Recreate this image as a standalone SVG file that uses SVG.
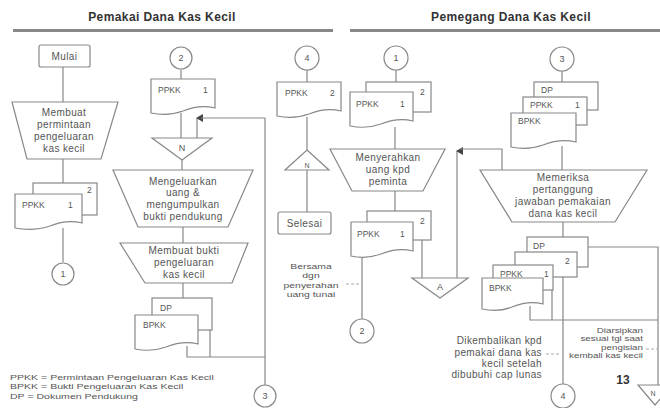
<svg xmlns="http://www.w3.org/2000/svg" width="660" height="408" viewBox="0 0 660 408">
<style>
text{font-family:"Liberation Sans",Arial,sans-serif;font-size:10px;letter-spacing:0.4px;fill:#555}
.c{text-anchor:middle}
.e{text-anchor:end}
.h{font-size:12px;font-weight:bold;letter-spacing:0.4px;fill:#333}
.w{font-size:8px;letter-spacing:0}
.s{font-size:7px;letter-spacing:0}
.d{font-size:8.5px;letter-spacing:0}
.n{font-size:9px;letter-spacing:0}
.shape{fill:#fff;stroke:#888;stroke-width:1.2}
.ln{fill:none;stroke:#888;stroke-width:1.2}
.dash{fill:none;stroke:#aaa;stroke-width:1;stroke-dasharray:3 2}
</style>
<defs>
<marker id="ah" markerWidth="8" markerHeight="8" refX="4" refY="1" orient="auto-start-reverse" markerUnits="userSpaceOnUse">
<path d="M0,7 L4,0 L8,7 Z" fill="#444"/>
</marker>
</defs>
<rect width="660" height="408" fill="#fff"/>
<g id="headers">
<text class="h c" x="162" y="21">Pemakai Dana Kas Kecil</text>
<text class="h c" x="511" y="21">Pemegang Dana Kas Kecil</text>
<rect x="13" y="29" width="320" height="3" fill="#888"/>
<rect x="350" y="29" width="310" height="3" fill="#888"/>
</g>
<g id="connectors">
<path class="ln" d="M63,67 V102 M63,159 V183 M63,228 V262"/>
<path class="ln" d="M181,70 V79 M181,113 V138 M182,160 V170 M183,227 V243 M183,283 V298"/>
<path class="ln" d="M197,138 V118" marker-end="url(#ah)"/>
<path class="ln" d="M201,118 H265 V385 M187,346 V357 H265 M210,330 V357"/>
<path class="ln" d="M307,70 V82 M307,117 V150"/>
<path class="ln" d="M307,212 V166" marker-end="url(#ah)"/>
<path class="ln" d="M396,70 V82 M395,127 V149 M395,191 V211 M362,255 V319 M422,240 V278"/>
<path class="ln" d="M457,278 V151" marker-end="url(#ah)"/>
<path class="ln" d="M460,149 H502 V170"/>
<path class="ln" d="M562,71 V82 M562,146 V170 M563,222 V237"/>
<path class="ln" d="M588,247 H658 V385 M530,306 V320 H658 M552,290 V320 M563,277 V384"/>
<path class="dash" d="M346,284 H361 M546,354 H561 M646,349 H657"/>
</g>
<g id="mulai"><rect class="shape" x="39" y="45" width="51" height="22" rx="2"/><text class="c" x="64.5" y="60">Mulai</text></g>
<g id="membuat-permintaan"><polygon class="shape" points="12,102 118,102 101,159 27,159"/>
<text class="c" x="64" y="116">Membuat</text><text class="c" x="64" y="128">permintaan</text><text class="c" x="64" y="140">pengeluaran</text><text class="c" x="64" y="152">kas kecil</text></g>
<g id="ppkk-col1"><rect class="shape" x="33" y="183" width="64" height="32"/><text class="d" x="87" y="193">2</text>
<path class="shape" d="M15,194 H82 V223 C70,220 60,222 50,226 C38,230 26,230 15,228 Z"/><text class="d" x="22" y="208">PPKK</text><text class="d" x="68" y="208">1</text></g>
<g id="conn1-left"><circle class="shape" cx="63" cy="274" r="11"/><text class="c n" x="63" y="277">1</text></g>
<g id="conn2-left"><circle class="shape" cx="181" cy="58" r="11"/><text class="c n" x="181" y="61">2</text></g>
<g id="ppkk-col2"><path class="shape" d="M151,79 H215 V108 C203,105 193,107 183,111 C172,115 161,115 151,113 Z"/><text class="d" x="158" y="93">PPKK</text><text class="d" x="203" y="93">1</text></g>
<g id="file-n-left"><polygon class="shape" points="152,138 212,138 182,160"/><text class="c n" x="182" y="151">N</text></g>
<g id="mengeluarkan"><polygon class="shape" points="113,170 253,170 228,227 138,227"/>
<text class="c" x="183" y="185">Mengeluarkan</text><text class="c" x="183" y="196">uang &amp;</text><text class="c" x="183" y="208">mengumpulkan</text><text class="c" x="183" y="220">bukti pendukung</text></g>
<g id="membuat-bukti"><polygon class="shape" points="120,243 248,243 232,283 145,283"/>
<text class="c" x="184" y="254">Membuat bukti</text><text class="c" x="184" y="266">pengeluaran</text><text class="c" x="184" y="278">kas kecil</text></g>
<g id="dp-bpkk-left"><rect class="shape" x="152" y="298" width="60" height="32"/><text class="d" x="160" y="311">DP</text>
<path class="shape" d="M135,315 H198 V344 C186,341 176,343 166,347 C155,351 145,351 135,349 Z"/><text class="d" x="143" y="328">BPKK</text></g>
<g id="conn3-left"><circle class="shape" cx="265" cy="396" r="11"/><text class="c n" x="265" y="399">3</text></g>
<g id="conn4-top"><circle class="shape" cx="307" cy="58" r="12"/><text class="c n" x="307" y="61">4</text></g>
<g id="ppkk2-col3"><path class="shape" d="M277,82 H341 V111 C329,108 319,110 309,114 C298,118 287,118 277,116 Z"/><text class="d" x="285" y="96">PPKK</text><text class="d" x="330" y="96">2</text></g>
<g id="file-n-col3"><polygon class="shape" points="307,150 329,170 285,170"/><text class="c" x="307" y="168" style="font-size:7px;letter-spacing:0">N</text></g>
<g id="selesai"><rect class="shape" x="278" y="212" width="53" height="22" rx="2"/><text class="c" x="304.5" y="227">Selesai</text></g>
<g id="conn1-right"><circle class="shape" cx="396" cy="58" r="12"/><text class="c n" x="396" y="61">1</text></g>
<g id="ppkk-right-top"><rect class="shape" x="366" y="82" width="65" height="30"/><text class="d" x="420" y="95">2</text>
<path class="shape" d="M350,92 H413 V121 C401,118 391,120 381,124 C370,128 360,128 350,126 Z"/><text class="d" x="356" y="107">PPKK</text><text class="d" x="400" y="107">1</text></g>
<g id="menyerahkan"><polygon class="shape" points="330,149 445,149 423,191 352,191"/>
<text class="c" x="388" y="161">Menyerahkan</text><text class="c" x="388" y="173">uang kpd</text><text class="c" x="388" y="185">peminta</text></g>
<g id="ppkk-right-mid"><rect class="shape" x="367" y="211" width="64" height="29"/><text class="d" x="420" y="224">2</text>
<path class="shape" d="M351,222 H413 V251 C401,248 391,250 381,254 C370,258 360,258 351,256 Z"/><text class="d" x="357" y="237">PPKK</text><text class="d" x="400" y="237">1</text></g>
<g id="file-a"><polygon class="shape" points="412,278 468,278 440,298"/><text class="c n" x="440" y="290">A</text></g>
<g id="note-bersama" transform="translate(311,0) scale(1.3,1)"><text class="c w" x="0" y="269">Bersama</text><text class="c w" x="0" y="278.5">dgn</text><text class="c w" x="0" y="288">penyerahan</text><text class="c w" x="0" y="297.5">uang tunai</text></g>
<g id="conn2-right"><circle class="shape" cx="362" cy="331" r="12"/><text class="c n" x="362" y="334">2</text></g>
<g id="conn3-right"><circle class="shape" cx="562" cy="59" r="12"/><text class="c n" x="562" y="62">3</text></g>
<g id="docs-right-top"><rect class="shape" x="534" y="82" width="64" height="28"/><text class="d" x="541" y="93">DP</text>
<rect class="shape" x="523" y="97" width="64" height="28"/><text class="d" x="530" y="108">PPKK</text><text class="d" x="575" y="108">1</text>
<path class="shape" d="M511,113 H576 V142 C564,139 553,141 543,145 C532,149 521,149 511,147 Z"/><text class="d" x="518" y="124">BPKK</text></g>
<g id="memeriksa"><polygon class="shape" points="480,170 647,170 615,222 512,222"/>
<text class="c" x="563" y="181">Memeriksa</text><text class="c" x="563" y="193">pertanggung</text><text class="c" x="563" y="205">jawaban pemakaian</text><text class="c" x="563" y="217">dana kas kecil</text></g>
<g id="docs-right-bottom"><rect class="shape" x="527" y="237" width="61" height="30"/><text class="d" x="533" y="249">DP</text>
<rect class="shape" x="515" y="252" width="62" height="25"/><text class="d" x="565" y="264">2</text>
<rect class="shape" x="493" y="265" width="60" height="25"/><text class="d" x="500" y="277">PPKK</text><text class="d" x="544" y="277">1</text>
<path class="shape" d="M482,278 H543 V304 C532,301 522,303 512,307 C502,311 492,311 482,309 Z"/><text class="d" x="489" y="291">BPKK</text></g>
<g id="conn4-bottom"><circle class="shape" cx="563" cy="396" r="12"/><text class="c n" x="563" y="399">4</text></g>
<g id="file-n-right"><polygon class="shape" points="638,385 672,385 655,405"/><text class="c" x="653" y="396" style="font-size:7px;letter-spacing:0">N</text></g>
<g id="note-dikembalikan"><text class="e" x="542" y="344">Dikembalikan kpd</text><text class="e" x="542" y="356">pemakai dana kas</text><text class="e" x="542" y="367">kecil setelah</text><text class="e" x="542" y="378">dibubuhi cap lunas</text></g>
<g id="note-diarsipkan" transform="translate(643,0) scale(1.4,1)"><text class="e s" x="0" y="333">Diarsipkan</text><text class="e s" x="0" y="341.5">sesuai tgl saat</text><text class="e s" x="0" y="350">pengisian</text><text class="e s" x="0" y="358.5">kembali kas kecil</text></g>
<text x="623" y="384" class="c" style="font-size:12px;font-weight:bold;letter-spacing:0;fill:#333">13</text>
<g id="legend" transform="translate(10,0) scale(1.32,1)"><text class="w" x="0" y="380">PPKK = Permintaan Pengeluaran Kas Kecil</text><text class="w" x="0" y="389.5">BPKK = Bukti Pengeluaran Kas Kecil</text><text class="w" x="0" y="399">DP = Dokumen Pendukung</text></g>
</svg>
